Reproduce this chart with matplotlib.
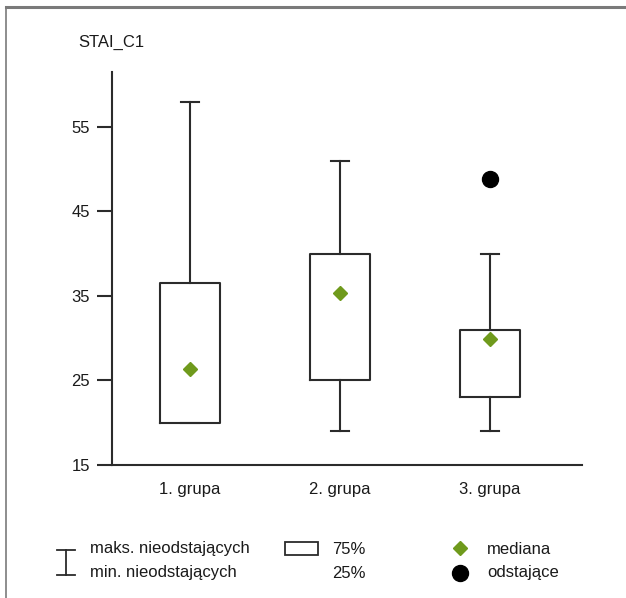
import matplotlib
matplotlib.use("Agg")
import matplotlib.pyplot as plt
from matplotlib.lines import Line2D
from matplotlib.patches import Rectangle

plt.rcParams['font.family'] = ["Liberation Sans", "DejaVu Sans"]

# ---- data ----
categories = ["1. grupa", "2. grupa", "3. grupa"]
whisker_low = [20, 19, 19]
q1 = [20, 25, 23]
median = [26.3, 35.3, 29.9]
q3 = [36.5, 40, 31]
whisker_high = [58, 51, 40]
outliers = [[], [], [48.8]]
y_ticks = [15, 25, 35, 45, 55]
y_label = "STAI_C1"

W, H = 626, 598
fig = plt.figure(figsize=(W / 100, H / 100), dpi=100)
ax = fig.add_axes([112 / W, 1 - 465 / H, (582 - 112) / W, (465 - 72) / H])

ink = "#2b2b2b"
txt = "#1a1a1a"
green = "#6f9a1c"
fs = 12
stats = []
for i in range(3):
    stats.append(dict(whislo=whisker_low[i], q1=q1[i], med=median[i], q3=q3[i],
                      whishi=whisker_high[i], fliers=[]))
pos = [1, 2, 3]
ax.bxp(stats, positions=pos, widths=0.4, showfliers=False,
       boxprops=dict(color=ink, linewidth=1.5),
       whiskerprops=dict(color=ink, linewidth=1.5),
       capprops=dict(color=ink, linewidth=1.5),
       medianprops=dict(linewidth=0),
       capwidths=0.115, manage_ticks=False)
ax.plot(pos, median, linestyle="none", marker="D", markersize=7.6, color=green, zorder=5)
for p, outs in zip(pos, outliers):
    if outs:
        ax.plot([p] * len(outs), outs, linestyle="none", marker="o", markersize=11.5,
                color="black", zorder=5)

ax.set_xlim(0.48, 3.613)
ax.set_ylim(15, 61.5)
ax.set_yticks(y_ticks)
ax.set_xticks(pos)
ax.set_xticklabels(categories)
for s in ["top", "right"]:
    ax.spines[s].set_visible(False)
for s in ["left", "bottom"]:
    ax.spines[s].set_linewidth(1.5)
    ax.spines[s].set_color(ink)
ax.tick_params(axis="y", length=11, width=1.5, color=ink, labelsize=fs, pad=5, labelcolor=txt)
ax.tick_params(axis="x", length=0, labelsize=fs, pad=12, labelcolor=txt)

fig.text(78 / W, 1 - 42 / H, y_label, fontsize=fs, ha="left", va="center", color=txt)

# frame
fig.add_artist(Line2D([6 / W, 1], [1 - 7 / H, 1 - 7 / H], color="#7a7a7a", linewidth=2.2))
fig.add_artist(Line2D([6 / W, 6 / W], [1 - 7 / H, 0], color="#7a7a7a", linewidth=1.2))

# legend
def fx(x): return x / W
def fy(y): return 1 - y / H
fig.add_artist(Line2D([fx(66), fx(66)], [fy(550), fy(575)], color=ink, linewidth=1.3))
fig.add_artist(Line2D([fx(57), fx(75)], [fy(550), fy(550)], color=ink, linewidth=1.3))
fig.add_artist(Line2D([fx(57), fx(75)], [fy(575), fy(575)], color=ink, linewidth=1.3))
fig.text(fx(90), fy(549), "maks. nieodstających", fontsize=fs, va="center", color=txt)
fig.text(fx(90), fy(573), "min. nieodstających", fontsize=fs, va="center", color=txt)
fig.add_artist(Rectangle((fx(285), fy(555)), fx(33), (555 - 542) / H, fill=False,
                         edgecolor=ink, linewidth=1.3))
fig.text(fx(332), fy(549), "75%", fontsize=fs, va="center", color=txt)
fig.text(fx(332), fy(573), "25%", fontsize=fs, va="center", color=txt)
fig.add_artist(Line2D([fx(460)], [fy(548)], marker="D", markersize=7.6, color=green, linestyle="none"))
fig.add_artist(Line2D([fx(460)], [fy(573)], marker="o", markersize=11.5, color="black", linestyle="none"))
fig.text(fx(487), fy(549), "mediana", fontsize=fs, va="center", color=txt)
fig.text(fx(487), fy(573), "odstające", fontsize=fs, va="center", color=txt)

fig.savefig("out.png", dpi=100)
